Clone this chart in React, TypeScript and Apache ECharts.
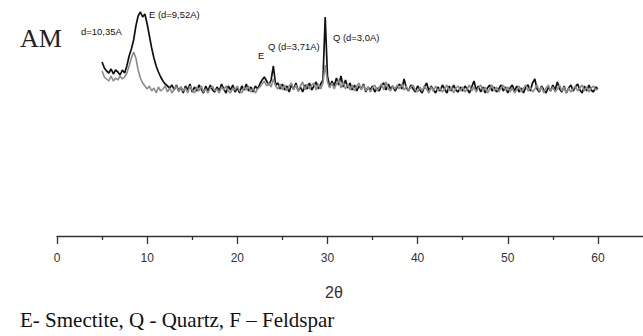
import React, { useEffect, useRef } from "react";
import * as echarts from "echarts";

// XRD scan: start angle and step (2θ, degrees)
const scanStart = 5;
const scanStep = 0.25;

// black trace (intensity, arbitrary units), 5° .. 60°
const blackTrace = [
  174, 168, 165, 163, 167, 162, 166, 164, 161, 166, 163, 170,
  180, 187, 196, 210, 220, 224, 219, 222, 212, 200, 188, 178,
  170, 164, 159, 155, 152, 150, 148, 151, 146, 151, 145, 149,
  143, 150, 146, 152, 144, 149, 145, 151, 147, 143, 150, 145,
  151, 146, 144, 149, 145, 152, 147, 143, 150, 146, 151, 144,
  148, 143, 150, 146, 152, 145, 149, 144, 150, 147, 152, 156,
  159, 155, 151, 156, 170, 151, 153, 147, 152, 146, 150, 144,
  151, 147, 153, 145, 149, 144, 151, 147, 153, 146, 150, 154,
  147, 152, 156, 219, 160, 149, 155, 150, 158, 151, 160, 149,
  156, 148, 153, 146, 151, 145, 150, 147, 152, 144, 149, 146,
  150, 144, 148, 145, 151, 153, 146, 152, 147, 150, 145, 149,
  152, 147, 157, 148, 145, 151, 147, 144, 150, 146, 143, 149,
  153, 145, 150, 146, 143, 149, 145, 151, 147, 143, 150, 145,
  151, 146, 144, 149, 145, 150, 147, 143, 149, 155, 146, 150,
  144, 149, 143, 148, 151, 145, 149, 144, 147, 151, 145, 149,
  143, 148, 151, 145, 150, 144, 148, 143, 149, 151, 145, 153,
  157, 147, 144, 150, 146, 143, 149, 145, 151, 146, 154, 147,
  144, 150, 143, 148, 151, 145, 149, 152, 146, 143, 150, 145,
  151, 146, 144, 149, 147,
];

// grey trace (intensity, arbitrary units), 5° .. 60°
const greyTrace = [
  165, 159, 157, 155, 160, 155, 158, 156, 160, 157, 159, 163,
  170, 178, 184, 178, 166, 158, 153, 150, 147, 150, 145, 148,
  143, 149, 145, 147, 150, 144, 148, 143, 147, 150, 144, 149,
  145, 148, 143, 150, 146, 143, 149, 145, 150, 144, 147, 143,
  148, 150, 145, 147, 143, 149, 146, 150, 145, 143, 148, 146,
  150, 145, 143, 149, 146, 150, 144, 148, 143, 147, 149, 152,
  155, 150, 153, 149, 157, 150, 147, 152, 146, 151, 145, 150,
  153, 146, 151, 145, 150, 154, 146, 152, 147, 151, 153, 146,
  152, 147, 153, 171, 154, 148, 153, 147, 152, 156, 148, 154,
  147, 152, 146, 151, 145, 150, 153, 146, 151, 145, 149, 144,
  148, 151, 145, 149, 152, 146, 154, 147, 145, 150, 147, 151,
  147, 152, 146, 150, 145, 149, 151, 146, 144, 149, 145, 150,
  147, 143, 149, 145, 150, 145, 148, 144, 147, 151, 145, 149,
  143, 148, 150, 145, 149, 144, 147, 151, 145, 149, 144, 148,
  151, 145, 149, 143, 147, 151, 145, 149, 144, 148, 151, 146,
  149, 144, 148, 143, 146, 150, 144, 148, 151, 145, 149, 144,
  147, 151, 145, 149, 143, 148, 151, 145, 149, 144, 147, 151,
  145, 149, 143, 148, 144, 147, 150, 145, 148, 151, 145, 149,
  144, 148, 150, 146, 147,
];

const majorTicks = [0, 10, 20, 30, 40, 50, 60];
const minorTicks = [5, 15, 25, 35, 45, 55];

const peakNotes = [
  { text: "d=10,35A", x: 81, y: 32 },
  { text: "E (d=9,52A)", x: 149, y: 15 },
  { text: "E", x: 258, y: 56 },
  { text: "Q (d=3,71A)", x: 268, y: 47 },
  { text: "Q (d=3,0A)", x: 333, y: 38 },
];

export default function App() {
  const ref = useRef<HTMLDivElement>(null);
  useEffect(() => {
    if (!ref.current) return;
    const chart = echarts.init(ref.current, null, { renderer: "svg" });
    const toPairs = (arr: number[]) => arr.map((v, i) => [scanStart + i * scanStep, v]);
    chart.setOption({
      animation: false,
      grid: { left: 57, right: 0, top: 10, bottom: 100 },
      xAxis: [
        {
          type: "value",
          min: 0,
          max: 65,
          position: "bottom",
          axisLine: { show: true, lineStyle: { color: "#333", width: 1.3 } },
          axisTick: { show: true, customValues: majorTicks, length: 8, lineStyle: { color: "#333", width: 1.3 } },
          axisLabel: {
            customValues: majorTicks,
            margin: 16,
            fontSize: 12,
            color: "#333",
            fontFamily: "Liberation Sans, Arial, sans-serif",
          },
          splitLine: { show: false },
        },
        {
          type: "value",
          min: 0,
          max: 65,
          position: "bottom",
          axisLine: { show: false },
          axisTick: { show: true, customValues: minorTicks, length: 4, lineStyle: { color: "#333", width: 1.3 } },
          axisLabel: { show: false },
          splitLine: { show: false },
        },
      ],
      yAxis: { type: "value", min: 0, max: 226, show: false },
      series: [
        {
          type: "line",
          xAxisIndex: 0,
          data: toPairs(blackTrace),
          showSymbol: false,
          lineStyle: { color: "#111", width: 1.7 },
        },
        {
          type: "line",
          xAxisIndex: 0,
          data: toPairs(greyTrace),
          showSymbol: false,
          lineStyle: { color: "#8c8c8c", width: 1.6 },
        },
      ],
      graphic: [
        {
          type: "text",
          left: 20,
          top: 25,
          style: { text: "AM", font: "26px 'Liberation Serif', serif", fill: "#222" },
        },
        ...peakNotes.map((n) => ({
          type: "text",
          x: n.x,
          y: n.y,
          scaleX: 1.05,
          style: {
            text: n.text,
            font: "9px 'Liberation Sans', Arial, sans-serif",
            fill: "#111",
            verticalAlign: "middle",
          },
        })),
        {
          type: "text",
          x: 334,
          y: 292,
          style: {
            text: "2θ",
            font: "16px 'Liberation Sans', Arial, sans-serif",
            fill: "#333",
            align: "center",
            verticalAlign: "middle",
          },
        },
        {
          type: "text",
          x: 20,
          y: 320,
          style: {
            text: "E- Smectite, Q - Quartz, F – Feldspar",
            font: "21px 'Liberation Serif', serif",
            fill: "#111",
            verticalAlign: "middle",
          },
        },
      ],
    });
    return () => chart.dispose();
  }, []);
  return (
    <div
      ref={ref}
      style={{ position: "absolute", left: 0, top: 0, width: 643, height: 336 }}
    />
  );
}
